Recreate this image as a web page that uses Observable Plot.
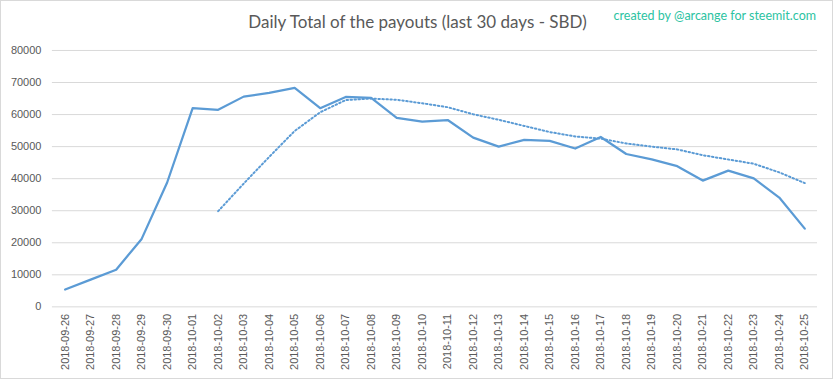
<!DOCTYPE html>
<html>
<head>
<meta charset="utf-8">
<script src="https://cdn.jsdelivr.net/npm/d3@7"></script>
<script src="https://cdn.jsdelivr.net/npm/@observablehq/plot@0.6"></script>
<style>
  html, body { margin: 0; padding: 0; background: #fff; }
  #wrap { position: relative; width: 833px; height: 379px; box-sizing: border-box; border: 1px solid #d9d9d9; background: #fff; }
  #title { position: absolute; left: 0; width: 833px; top: 10px; text-align: center; font-family: Lato, "Open Sans", sans-serif; font-size: 17px; color: #595959; }
  #credit { position: absolute; right: 16px; top: 7px; font-family: Lato, "Open Sans", sans-serif; font-size: 12.5px; color: #2cc3a2; }
  #chart { position: absolute; left: 0; top: 40px; }
</style>
</head>
<body>
<div id="wrap">
  <div id="title">Daily Total of the payouts (last 30 days - SBD)</div>
  <div id="credit">created by @arcange for steemit.com</div>
  <div id="chart"></div>
</div>
<script>
const dates = [
  "2018-09-26","2018-09-27","2018-09-28","2018-09-29","2018-09-30",
  "2018-10-01","2018-10-02","2018-10-03","2018-10-04","2018-10-05",
  "2018-10-06","2018-10-07","2018-10-08","2018-10-09","2018-10-10",
  "2018-10-11","2018-10-12","2018-10-13","2018-10-14","2018-10-15",
  "2018-10-16","2018-10-17","2018-10-18","2018-10-19","2018-10-20",
  "2018-10-21","2018-10-22","2018-10-23","2018-10-24","2018-10-25"
];
const payouts = [
  5400, 8500, 11600, 21200, 38800,
  62000, 61500, 65600, 66800, 68300,
  62000, 65500, 65200, 59000, 57800,
  58300, 52800, 50000, 52100, 51800,
  49400, 53000, 47700, 46000, 43900,
  39400, 42500, 40100, 34100, 24400
];
const yTicks = [0, 10000, 20000, 30000, 40000, 50000, 60000, 70000, 80000];

const data = dates.map((d, i) => ({date: d, value: payouts[i]}));

const chart = Plot.plot({
  width: 833,
  height: 339,
  marginLeft: 51,
  marginRight: 15,
  marginTop: 9,
  marginBottom: 73,
  style: {fontFamily: "'Liberation Sans', Arial, sans-serif", fontSize: "11px", color: "#595959", background: "transparent"},
  x: {type: "point", domain: dates, padding: 0.5, round: false, label: null},
  y: {domain: [0, 80000], ticks: yTicks, label: null},
  marks: [
    Plot.gridY(yTicks, {stroke: "#d9d9d9", strokeOpacity: 1, strokeWidth: 1}),
    Plot.axisY({ticks: yTicks, tickSize: 0, tickPadding: 11, tickFormat: d => String(d), label: null, fill: "#595959"}),
    Plot.axisX({tickSize: 0, tickPadding: 7, tickRotate: -90, label: null, fill: "#595959"}),
    Plot.line(data, Plot.windowY({k: 7, anchor: "end", reduce: "mean", strict: true}, {x: "date", y: "value", stroke: "#5b9bd5", strokeWidth: 2, strokeDasharray: "1.5,2.5"})),
    Plot.line(data, {x: "date", y: "value", stroke: "#5b9bd5", strokeWidth: 2.25, strokeLinejoin: "round"})
  ]
});
document.getElementById("chart").appendChild(chart);
</script>
</body>
</html>
